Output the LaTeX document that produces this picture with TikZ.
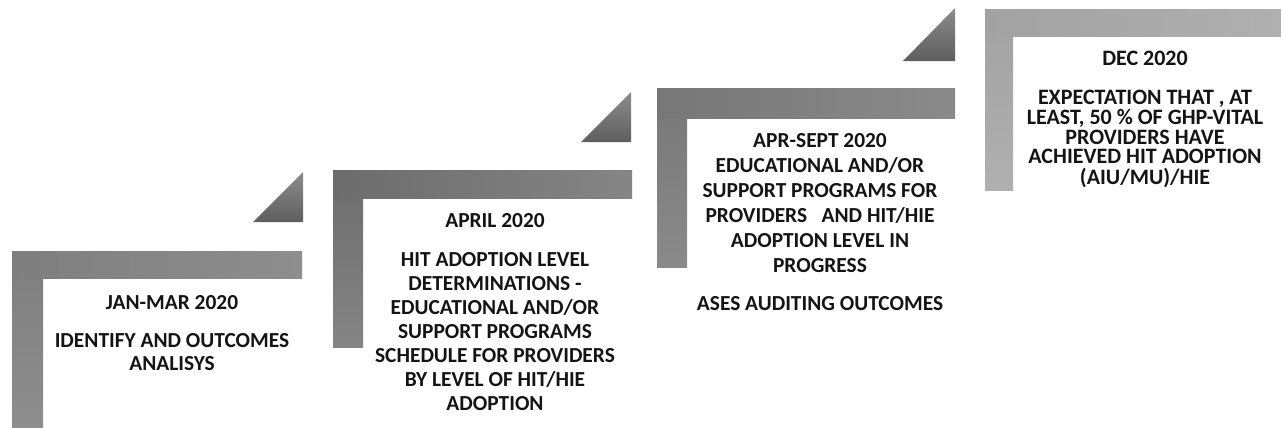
\documentclass[tikz,border=0pt]{standalone}
\usepackage{fontspec}
\setmainfont{Carlito}
\definecolor{barA}{HTML}{7E7E7E}
\definecolor{barAl}{HTML}{8E8E8E}
\definecolor{barB}{HTML}{6C6C6C}
\definecolor{barBl}{HTML}{858585}
\definecolor{barC}{HTML}{777777}
\definecolor{barCl}{HTML}{8A8A8A}
\definecolor{barD}{HTML}{A2A2A2}
\definecolor{barDl}{HTML}{B0B0B0}
\definecolor{triD}{HTML}{5E5E5E}
\definecolor{triL}{HTML}{8C8C8C}
\definecolor{txt}{HTML}{141414}
\tikzset{
  lbl/.style={font=\bfseries\fontsize{10.7}{12}\selectfont, text=txt, align=center, inner sep=0pt, anchor=base},
  tri/.style={top color=triL, bottom color=triD, draw=none}
}
\begin{document}
\begin{tikzpicture}[x=0.5pt,y=-0.5pt]
\useasboundingbox (0,0) rectangle (1281,428);
% step 1
\shade[top color=barA, bottom color=barAl] (12,251) rectangle (43,428);
\shade[left color=barA, right color=barAl] (12,251) rectangle (302,278);
\shade[tri] (253,222) -- (303,222) -- (303,172) -- cycle;
% step 2
\shade[top color=barB, bottom color=barBl] (333,170) rectangle (363,347);
\shade[left color=barB, right color=barBl] (333,170) rectangle (632,198);
\shade[tri] (581,142) -- (631,142) -- (631,92) -- cycle;
% step 3
\shade[top color=barC, bottom color=barCl] (657,88) rectangle (687,267);
\shade[left color=barC, right color=barCl] (657,88) rectangle (955,118);
\shade[tri] (903,61) -- (955,61) -- (955,8) -- cycle;
% step 4
\shade[top color=barD, bottom color=barDl] (985,9) rectangle (1013,190);
\shade[left color=barD, right color=barDl] (985,9) rectangle (1281,36);
% texts (multi-line nodes: base = baseline of last line)
\node[lbl] (t1) at (172,309) {JAN-MAR 2020};
\node[lbl, font=\bfseries\fontsize{10.7}{11.5}\selectfont] (b1) at (172,370) {IDENTIFY AND OUTCOMES\\ANALISYS};
\node[lbl] (t2) at (495,227) {APRIL 2020};
\node[lbl] (b2) at (495,410) {HIT ADOPTION LEVEL\\DETERMINATIONS -\\EDUCATIONAL AND/OR\\SUPPORT PROGRAMS\\SCHEDULE FOR PROVIDERS\\BY LEVEL OF HIT/HIE\\ADOPTION};
\node[lbl, font=\bfseries\fontsize{10.7}{12.5}\selectfont] (b3) at (820,272) {APR-SEPT 2020\\EDUCATIONAL AND/OR\\SUPPORT PROGRAMS FOR\\PROVIDERS \ \ AND HIT/HIE\\ADOPTION LEVEL IN\\PROGRESS};
\node[lbl] (a3) at (820,310) {ASES AUDITING OUTCOMES};
\node[lbl, font=\bfseries\fontsize{11}{10}\selectfont] (t4) at (1145,65) {DEC 2020};
\node[lbl, font=\bfseries\fontsize{11}{10}\selectfont] (b4) at (1145,184) {EXPECTATION THAT , AT\\LEAST, 50 \% OF GHP-VITAL\\PROVIDERS HAVE\\ACHIEVED HIT ADOPTION\\(AIU/MU)/HIE};
\end{tikzpicture}
\end{document}
